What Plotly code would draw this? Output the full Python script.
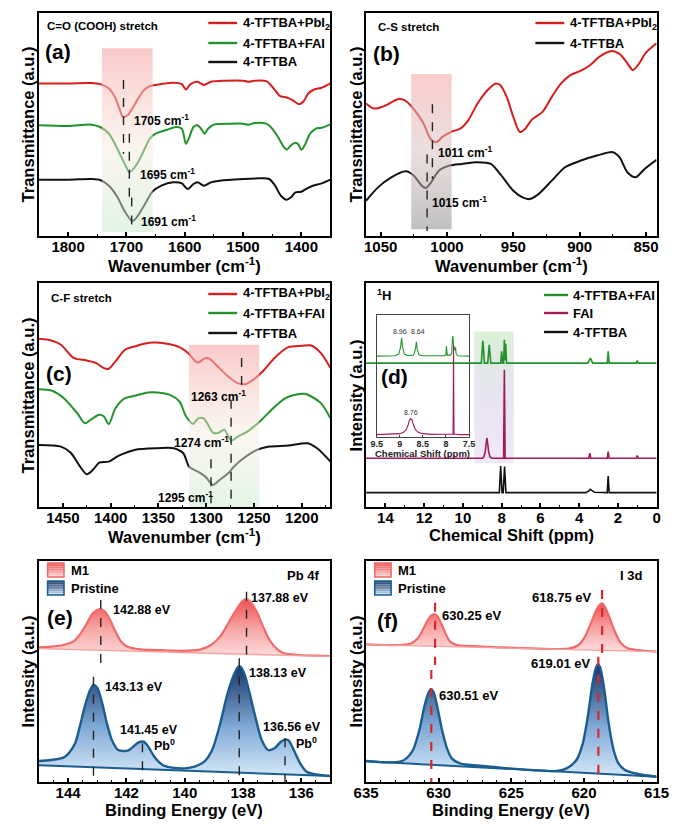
import plotly.graph_objects as go

# ===================== DATA =====================
# (a) C=O (COOH) stretch  -- wavenumber (cm-1) vs transmittance (a.u., offset)
a_wn_pbi2 = [1850,1800,1760,1745,1730,1720,1712,1706,1698,1690,1680,1670,1660,1640,1620,1605,1598,1590,1578,1567,
             1555,1530,1500,1490,1480,1460,1455,1445,1437,1425,1415,1404,1396,1388,1378,1365,1350]
a_t_pbi2 = [455,455,456,453,440,415,380,355,360,380,410,435,447,453,457,453,437,453,460,450,
            460,463,463,460,463,462,455,435,418,413,405,393,402,425,437,442,455]
a_wn_fai = [1850,1800,1760,1745,1730,1720,1710,1700,1695,1688,1680,1670,1660,1650,1630,1615,1605,1598,1592,1585,
            1578,1570,1566,1560,1550,1520,1500,1490,1480,1460,1450,1440,1430,1425,1418,1410,1405,1400,1393,1385,
            1375,1365,1350]
a_t_fai = [330,328,332,325,305,275,240,205,190,200,220,255,290,305,317,325,320,275,295,325,
           330,315,305,320,332,335,335,332,337,335,320,295,265,258,270,278,273,257,275,305,
           320,323,333]
a_wn_tftba = [1850,1800,1760,1745,1730,1715,1705,1695,1691,1685,1675,1665,1655,1640,1620,1605,1595,1585,1578,1567,
              1555,1540,1500,1470,1455,1445,1435,1425,1418,1410,1400,1390,1380,1365,1350]
a_t_tftba = [168,168,170,167,150,115,80,53,45,50,75,105,133,150,160,157,140,155,160,150,
             160,165,170,172,170,150,120,108,115,130,132,142,150,157,168]

# (b) C-S stretch
b_wn_pbi2 = [1061,1055,1047,1037,1032,1025,1018,1012,1008,1003,996,990,984,977,969,963,960,955,950,945,
             941,936,928,921,914,907,899,892,885,876,870,864,860,856,850,842]
b_t_pbi2 = [395,380,388,408,405,378,338,287,280,297,312,320,345,395,437,455,450,415,355,310,
            320,347,370,415,455,480,493,510,535,552,543,515,495,510,547,575]
b_wn_tftba = [1061,1052,1042,1031,1025,1019,1016,1012,1006,998,989,977,967,960,950,943,938,931,921,911,
              899,887,875,870,864,858,851,842]
b_t_tftba = [105,145,175,193,180,150,143,160,195,210,215,220,215,185,135,115,110,125,165,205,
             225,240,250,235,190,175,200,227]

# (c) C-F stretch
c_wn_pbi2 = [1475,1462,1452,1440,1435,1425,1415,1407,1402,1395,1385,1375,1365,1355,1341,1328,1319,1311,1308,1301,
             1296,1288,1277,1267,1259,1251,1241,1227,1214,1200,1190,1180,1170]
c_t_pbi2 = [504,499,486,449,443,439,431,416,414,436,471,481,489,493,489,479,461,436,433,446,
            443,421,391,371,368,381,406,451,479,483,484,461,416]
c_wn_fai = [1475,1462,1449,1435,1427,1420,1412,1407,1402,1395,1385,1375,1361,1351,1338,1328,1321,1314,1308,1303,
            1298,1293,1288,1281,1274,1267,1257,1244,1230,1217,1207,1197,1190,1180,1170]
c_t_fai = [353,349,326,281,251,263,276,271,248,296,326,333,343,343,336,316,271,249,266,266,
           246,223,221,231,199,211,226,256,296,326,336,339,331,311,266]
c_wn_tftba = [1475,1452,1442,1432,1425,1418,1412,1402,1392,1375,1351,1334,1324,1318,1309,1301,1293,1286,1277,1271,
              1261,1247,1234,1214,1194,1184,1170]
c_t_tftba = [186,181,163,121,98,113,133,136,153,171,176,176,161,121,106,91,66,81,101,121,
             146,171,181,184,191,176,136]

# (d) 1H NMR -- chemical shift (ppm) vs intensity (a.u., offset)
d_ppm_mix = [15,9.05,8.97,8.89,8.72,8.64,8.56,8.05,8.00,7.95,7.90,7.86,7.82,7.79,7.75,3.55,3.42,3.30,2.55,2.50,2.45,1.05,1.00,0.95,0]
d_i_mix = [431,431,498,431,431,486,431,431,466,431,431,501,440,489,431,431,446,431,431,466,431,431,439,431,431]
d_ppm_fai = [15,9.0,8.92,8.85,8.80,8.76,8.72,8.67,8.60,8.5,7.90,7.86,7.82,3.50,3.45,3.40,2.55,2.50,2.45,1.05,1.00,0.95,0]
d_i_fai = [146,146,150,165,190,206,190,165,150,146,146,411,146,146,161,146,146,166,146,146,154,146,146]
d_ppm_tftba = [15,13.8,13.5,13.3,13.0,8.12,8.05,7.98,7.92,7.85,7.78,3.65,3.5,3.42,3.35,3.2,2.55,2.50,2.45,0]
d_i_tftba = [43,43,45,45,43,43,123,43,43,121,43,43,48,53,50,44,43,93,43,43]
# inset (9.5 - 7.5 ppm)
ins_ppm_mix = [9.5,9.10,9.02,8.98,8.96,8.94,8.90,8.82,8.70,8.66,8.64,8.62,8.58,8.50,8.05,8.00,7.99,7.97,7.90,7.875,
               7.86,7.85,7.84,7.83,7.81,7.80,7.79,7.78,7.75,7.5]
ins_i_mix = [242,243,248,270,297,270,248,243,245,262,285,262,245,243,243,245,272,245,245,250,
             290,302,285,262,270,258,268,250,243,242]
ins_ppm_fai = [9.5,9.1,9.0,8.92,8.86,8.82,8.79,8.76,8.73,8.70,8.66,8.60,8.5,8.3,7.9,7.845,7.835,7.825,7.7,7.5]
ins_i_fai = [7,8,10,14,22,35,50,55,50,35,22,14,10,8,8,9,275,9,7,7]

# (e) XPS Pb 4f -- binding energy (eV) vs intensity (a.u., offset)
e_be_m1 = [145,144.59,144.16,143.83,143.61,143.39,143.17,143.0,142.88,142.73,142.57,142.40,142.18,141.96,141.52,
           140.98,140.43,139.88,139.44,139.1,138.79,138.52,138.24,138.02,137.89,137.75,137.53,137.31,137.09,136.82,
           136.59,136.04,135.49,135.0]
e_i_m1 = [404,406,411,421,441,471,504,516,519,511,488,456,421,406,398,396,394,394,398,411,
          436,474,516,543,549,541,511,466,426,398,386,381,379,378]
e_bg_be_m1 = [145,135]
e_bg_m1 = [400,377]
e_be_pr = [145,144.59,144.16,143.98,143.76,143.60,143.43,143.27,143.13,142.99,142.83,142.67,142.50,142.28,141.96,
           141.74,141.58,141.41,141.25,141.03,140.76,140.43,139.99,139.66,139.33,139.06,138.78,138.56,138.34,138.18,
           138.09,137.96,137.80,137.58,137.36,137.14,136.92,136.70,136.54,136.43,136.26,136.04,135.82,135.49,135.0]
e_i_pr = [63,66,73,86,116,166,226,271,291,281,236,176,126,96,94,108,119,121,106,74,
          51,43,41,46,61,96,176,256,316,344,346,326,276,196,126,96,101,121,128,124,
          96,56,31,23,18]
e_bg_be_pr = [145,135]
e_bg_pr = [50,18]

# (f) XPS I 3d
f_be_m1 = [635,633.66,632.55,631.88,631.44,631.10,630.77,630.50,630.32,630.10,629.83,629.54,629.21,628.76,627.65,
           625.87,623.64,621.86,620.97,620.37,619.93,619.48,619.15,618.93,618.77,618.59,618.26,617.92,617.48,617.0,
           616.29,615.0]
f_i_m1 = [413,411,411,416,431,456,484,500,504,498,476,446,421,411,408,404,401,399,401,411,
          436,481,516,531,536,528,496,456,418,401,396,391]
f_bg_be_m1 = [635,615]
f_bg_m1 = [412,391]
f_be_pr = [635,633.66,632.66,632.22,631.77,631.33,630.99,630.72,630.55,630.37,630.10,629.77,629.43,629.10,628.54,
           626.98,625.20,623.64,621.86,621.19,620.52,620.08,619.74,619.41,619.19,619.05,618.90,618.63,618.30,617.96,
           617.63,617.18,616.29,615.0]
f_i_pr = [63,59,61,71,96,156,226,266,278,271,226,156,101,71,56,48,41,36,33,41,
          66,116,196,296,341,353,346,286,176,96,56,36,24,16]
f_bg_be_pr = [635,615]
f_bg_pr = [62,16]

# peak markers: (position, y_top, y_bottom)
a_marks = [(1705, 465, 245), (1695, 305, 115), (1691, 115, 15)]
b_marks = [(1011, 393, 170), (1015, 243, 15)]
c_marks = [(1263, 446, 366), (1274, 321, 11), (1295, 143, 11)]
e_marks = [(142.88, 546, 336), (137.88, 571, 366), (143.13, 316, 0), (141.45, 116, 0), (138.13, 371, 0), (136.56, 131, 0)]
f_marks = [(630.25, 538, 351), (630.51, 336, 0), (618.75, 576, 386), (619.01, 376, 0)]

# peak labels: (text, x, y)
a_labels = [("1705 cm<sup>-1</sup>", 1690, 347), ("1695 cm<sup>-1</sup>", 1680, 185), ("1691 cm<sup>-1</sup>", 1678, 45)]
b_labels = [("1011 cm<sup>-1</sup>", 1008, 250), ("1015 cm<sup>-1</sup>", 1013, 100)]
c_labels = [("1263 cm<sup>-1</sup>", 1318, 333), ("1274 cm<sup>-1</sup>", 1336, 194), ("1295 cm<sup>-1</sup>", 1353, 31)]
e_labels = [("142.88 eV", 142.53, 516), ("137.88 eV", 137.80, 551), ("143.13 eV", 142.79, 286), ("138.13 eV", 137.88, 326),
            ("141.45 eV", 142.29, 156), ("Pb<sup>0</sup>", 141.12, 110), ("136.56 eV", 137.38, 164), ("Pb<sup>0</sup>", 136.26, 118)]
f_labels_left = [("630.25 eV", 629.92, 501), ("630.51 eV", 630.10, 261)]
f_labels_right = [("618.75 eV", 619.30, 554), ("619.01 eV", 619.41, 356)]
ins_labels = [("8.96", 8.99, 315), ("8.64", 8.61, 315), ("8.76", 8.76, 72)]

# highlighted regions: (x0, x1, y0, y1)
a_region = (1742, 1655, 12, 560)
b_region = (1027, 996.5, 20, 483)
c_region = (1318, 1244.5, 0, 486)
d_region = (9.41, 7.38, 131, 526)

# ===================== STYLE =====================
W, H = 685, 824
FONT = "Liberation Sans, Arial, sans-serif"
RED = "#d71e1e"
GREEN = "#22922a"
BLACK = "#111111"
PURPLE = "#a3195b"
M1C = "#f16a6a"
PRC = "#1b5d8f"


def PX(x):
    return x / W


def PY(y):
    return 1 - y / H


fig = go.Figure()


def line(ax, x, y, color, width=2.0, shape="spline", smoothing=0.8, dash=None):
    fig.add_trace(go.Scatter(
        x=x, y=y, mode="lines", xaxis="x" + ax, yaxis="y" + ax,
        line=dict(color=color, width=width, shape=shape, smoothing=smoothing, dash=dash),
        showlegend=False, hoverinfo="skip"))


def region(ax, reg, cs):
    x0, x1, y0, y1 = reg
    fig.add_trace(go.Scatter(
        x=[x0, x1, x1, x0, x0], y=[y0, y0, y1, y1, y0], mode="lines", fill="toself",
        line=dict(width=0, color="rgba(0,0,0,0)"), xaxis="x" + ax, yaxis="y" + ax,
        fillgradient=dict(type="vertical", colorscale=cs),
        showlegend=False, hoverinfo="skip"))


def xps_fill(ax, x, y, bx, by, cs):
    fig.add_trace(go.Scatter(
        x=list(x) + list(bx)[::-1], y=list(y) + list(by)[::-1], mode="lines", fill="toself",
        line=dict(width=0, color="rgba(0,0,0,0)", shape="spline", smoothing=0.8),
        xaxis="x" + ax, yaxis="y" + ax,
        fillgradient=dict(type="vertical", colorscale=cs),
        showlegend=False, hoverinfo="skip"))


# ---- (a)
line("", a_wn_pbi2, a_t_pbi2, RED)
line("", a_wn_fai, a_t_fai, GREEN)
line("", a_wn_tftba, a_t_tftba, BLACK)
region("", a_region, [[0, "rgba(200,236,208,0.55)"], [0.45, "rgba(245,232,220,0.45)"], [1, "rgba(247,165,165,0.6)"]])
# ---- (b)
line("2", b_wn_pbi2, b_t_pbi2, RED)
line("2", b_wn_tftba, b_t_tftba, BLACK)
region("2", b_region, [[0, "rgba(150,150,150,0.6)"], [0.5, "rgba(215,190,190,0.5)"], [1, "rgba(247,170,170,0.6)"]])
# ---- (c)
line("3", c_wn_pbi2, c_t_pbi2, RED)
line("3", c_wn_fai, c_t_fai, GREEN)
line("3", c_wn_tftba, c_t_tftba, BLACK)
region("3", c_region, [[0, "rgba(205,238,212,0.55)"], [0.45, "rgba(245,235,222,0.45)"], [1, "rgba(247,165,165,0.6)"]])
# ---- (d)
region("4", d_region, [[0, "rgba(232,222,240,0.7)"], [0.5, "rgba(222,215,238,0.7)"], [1, "rgba(205,236,200,0.75)"]])
line("4", d_ppm_mix, d_i_mix, GREEN, width=1.6, shape="linear")
line("4", d_ppm_fai, d_i_fai, PURPLE, width=1.6, shape="linear")
line("4", d_ppm_tftba, d_i_tftba, BLACK, width=1.6, shape="linear")
line("7", ins_ppm_mix, ins_i_mix, GREEN, width=1.1, shape="linear")
line("7", ins_ppm_fai, ins_i_fai, PURPLE, width=1.1, shape="linear")
# ---- (e)
M1_CS = [[0, "#fcdede"], [0.5, "#f7a3a3"], [1, "#ef4f4f"]]
PR_CS = [[0, "#d6e8f8"], [0.45, "#7fa9d6"], [1, "#1a3566"]]
xps_fill("5", e_be_m1, e_i_m1, e_bg_be_m1, e_bg_m1, M1_CS)
line("5", e_be_m1, e_i_m1, M1C, width=2.2)
line("5", e_bg_be_m1, e_bg_m1, "#f4a0a0", width=1.2, shape="linear")
xps_fill("5", e_be_pr, e_i_pr, e_bg_be_pr, e_bg_pr, PR_CS)
line("5", e_be_pr, e_i_pr, PRC, width=2.4)
line("5", e_bg_be_pr, e_bg_pr, PRC, width=2.0, shape="linear")
# ---- (f)
xps_fill("6", f_be_m1, f_i_m1, f_bg_be_m1, f_bg_m1, M1_CS)
line("6", f_be_m1, f_i_m1, M1C, width=2.2)
line("6", f_bg_be_m1, f_bg_m1, "#f4a0a0", width=1.2, shape="linear")
xps_fill("6", f_be_pr, f_i_pr, f_bg_be_pr, f_bg_pr, PR_CS)
line("6", f_be_pr, f_i_pr, PRC, width=2.4)
line("6", f_bg_be_pr, f_bg_pr, PRC, width=2.0, shape="linear")

# ---- axes
LEFT = [PX(27), PX(330)]
RIGHT = [PX(367), PX(669)]
ROW1 = [PY(236), PY(13)]
ROW2 = [PY(507), PY(283)]
ROW3 = [PY(782), PY(561)]
TICKFONT = dict(family=FONT, size=15, color="black", weight="bold")


def xax(dom, rng, dtick, minor, anchor):
    return dict(domain=dom, range=rng, anchor=anchor, dtick=dtick, ticks="inside", ticklen=4, tickwidth=1.5,
                tickcolor="black", showline=True, linecolor="black", linewidth=1.6, mirror=True,
                showgrid=False, zeroline=False, tickfont=TICKFONT, ticklabelstandoff=-4,
                minor=dict(dtick=minor, ticks="inside", ticklen=2.5, tickwidth=1.2, tickcolor="black", showgrid=False))


def yax(dom, rng, anchor):
    return dict(domain=dom, range=rng, anchor=anchor, showticklabels=False, ticks="", showline=True,
                linecolor="black", linewidth=1.6, mirror=True, showgrid=False, zeroline=False)


layout = dict(
    width=W, height=H, margin=dict(l=0, r=0, t=0, b=0),
    paper_bgcolor="white", plot_bgcolor="rgba(0,0,0,0)", showlegend=False,
    font=dict(family=FONT, color="black"),
    xaxis=xax(LEFT, [1850, 1350], 100, 50, "y"), yaxis=yax(ROW1, [0, 665], "x"),
    xaxis2=xax(RIGHT, [1061, 842], 50, 25, "y2"), yaxis2=yax(ROW1, [0, 665], "x2"),
    xaxis3=xax(LEFT, [1475, 1170], 50, 25, "y3"), yaxis3=yax(ROW2, [0, 671], "x3"),
    xaxis4=xax(RIGHT, [15, 0], 2, 1, "y4"), yaxis4=yax(ROW2, [0, 671], "x4"),
    xaxis5=xax(LEFT, [145, 135], 2, 0.5, "y5"), yaxis5=yax(ROW3, [0, 663], "x5"),
    xaxis6=xax(RIGHT, [635, 615], 5, 1, "y6"), yaxis6=yax(ROW3, [0, 663], "x6"),
)
layout["xaxis7"] = dict(domain=[PX(378), PX(474)], range=[9.5, 7.5], anchor="y7", dtick=0.5, ticks="inside",
                        ticklen=2, tickwidth=1, tickcolor="#444", showline=True, linecolor="#444", linewidth=1,
                        mirror=True, showgrid=False, zeroline=False, ticklabelstandoff=-2,
                        tickfont=dict(family=FONT, size=9, color="#222", weight="bold"))
layout["yaxis7"] = dict(domain=[PY(437), PY(315)], range=[0, 365], anchor="x7", showticklabels=False, ticks="",
                        showline=True, linecolor="#444", linewidth=1, mirror=True, showgrid=False, zeroline=False)
fig.update_layout(**layout)

# ---- dashed marker lines
shapes = []
for ax, marks, col, w, dsh in [("", a_marks, "#222", 1.4, "dash"), ("2", b_marks, "#222", 1.4, "dash"),
                               ("3", c_marks, "#222", 1.4, "dash"), ("5", e_marks, "#222", 1.4, "dash"),
                               ("6", f_marks, "#d42a2a", 2.2, "dash")]:
    for xv, y0, y1 in marks:
        shapes.append(dict(type="line", xref="x" + ax, yref="y" + ax, x0=xv, x1=xv, y0=y0, y1=y1,
                           line=dict(color=col, width=w, dash=dsh), layer="above"))


def leg_line(x0, x1, y, color):
    shapes.append(dict(type="line", xref="paper", yref="paper", x0=PX(x0), x1=PX(x1), y0=PY(y), y1=PY(y),
                       line=dict(color=color, width=2.4)))


ann = []


def text(x, y, s, size=14, xanchor="left", color="black", bold=True):
    ann.append(dict(x=PX(x), y=PY(y), xref="paper", yref="paper", text=("<b>%s</b>" % s) if bold else s,
                    showarrow=False, xanchor=xanchor, yanchor="middle",
                    font=dict(family=FONT, size=size, color=color)))


LEGF = 13
legA = [("4-TFTBA+PbI<sub>2</sub>", RED), ("4-TFTBA+FAI", GREEN), ("4-TFTBA", BLACK)]
for i, (s, c) in enumerate(legA):
    y = [23, 43, 62][i]
    leg_line(203, 233, y, c)
    text(237, y, s, LEGF)
for i, (s, c) in enumerate([legA[0], legA[2]]):
    y = [23, 43][i]
    leg_line(543, 573, y, c)
    text(577, y, s, LEGF)
for i, (s, c) in enumerate(legA):
    y = [294, 313, 333][i]
    leg_line(203, 233, y, c)
    text(237, y, s, LEGF)
legD = [("4-TFTBA+FAI", GREEN), ("FAI", PURPLE), ("4-TFTBA", BLACK)]
for i, (s, c) in enumerate(legD):
    y = [295, 313, 332][i]
    leg_line(552, 577, y, c)
    text(580, y, s, LEGF)


def grad_square(x0, x1, y0, y1, top, bot, edge, n=8):
    def mix(a, b, t):
        return "rgb(%d,%d,%d)" % tuple(int(a[k] + (b[k] - a[k]) * t) for k in range(3))
    for k in range(n):
        ya = y0 + (y1 - y0) * k / n
        yb = y0 + (y1 - y0) * (k + 1) / n
        shapes.append(dict(type="rect", xref="paper", yref="paper", x0=PX(x0), x1=PX(x1), y0=PY(ya), y1=PY(yb),
                           fillcolor=mix(top, bot, (k + 0.5) / n), line=dict(width=0)))
    shapes.append(dict(type="rect", xref="paper", yref="paper", x0=PX(x0), x1=PX(x1), y0=PY(y0), y1=PY(y1),
                       fillcolor="rgba(0,0,0,0)", line=dict(color=edge, width=1.6)))


for xo in (0, 340):
    grad_square(36 + xo, 53 + xo, 563, 577, (236, 80, 80), (252, 215, 215), M1C)
    grad_square(36 + xo, 53 + xo, 581, 595, (28, 55, 105), (205, 225, 245), PRC)
    text(58 + xo, 570, "M1", 13)
    text(58 + xo, 588, "Pristine", 13)

# ---- panel texts
text(33, 26, "C=O (COOH) stretch", 11.5)
text(31, 52, "(a)", 21)
text(377, 27, "C-S stretch", 11.5)
text(372, 53, "(b)", 21)
text(37, 298, "C-F stretch", 11.5)
text(32, 373, "(c)", 21)
text(376, 295, "<sup>1</sup>H", 13)
text(380, 377, "(d)", 21)
text(320, 575, "Pb 4f", 13, xanchor="right")
text(33, 617, "(e)", 21)
text(656, 575, "I 3d", 13, xanchor="right")
text(376, 620, "(f)", 21)

XT = 16.5
text(178, 265, "Wavenumber (cm<sup>-1</sup>)", XT, xanchor="center")
text(518, 265, "Wavenumber (cm<sup>-1</sup>)", XT, xanchor="center")
text(178, 536, "Wavenumber (cm<sup>-1</sup>)", XT, xanchor="center")
text(518, 535, "Chemical Shift (ppm)", XT, xanchor="center")
text(178, 810, "Binding Energy (eV)", XT, xanchor="center")
text(518, 810, "Binding Energy (eV)", XT, xanchor="center")
for x, y, s in [(16, 124, "Transmittance (a.u.)"), (357, 124, "Transmittance (a.u.)"),
                (16, 395, "Transmittance (a.u.)"), (357, 395, "Intensity (a.u.)"),
                (16, 671, "Intensity (a.u.)"), (357, 671, "Intensity (a.u.)")]:
    ann.append(dict(x=PX(x), y=PY(y), xref="paper", yref="paper", text="<b>%s</b>" % s, showarrow=False,
                    textangle=-90, xanchor="center", yanchor="middle", font=dict(family=FONT, size=XT, color="black")))
text(426, 453, "Chemical Shift (ppm)", 9.5, xanchor="center", color="#222")


def dlabel(ax, s, x, y, size=12, xanchor="left", color="black"):
    ann.append(dict(x=x, y=y, xref="x" + ax, yref="y" + ax, text="<b>%s</b>" % s, showarrow=False,
                    xanchor=xanchor, yanchor="middle", font=dict(family=FONT, size=size, color=color)))


for s, x, y in a_labels:
    dlabel("", s, x, y)
for s, x, y in b_labels:
    dlabel("2", s, x, y)
for s, x, y in c_labels:
    dlabel("3", s, x, y)
for s, x, y in e_labels:
    dlabel("5", s, x, y, size=12.5)
for s, x, y in f_labels_left:
    dlabel("6", s, x, y, size=13)
for s, x, y in f_labels_right:
    dlabel("6", s, x, y, size=13, xanchor="right")
for s, x, y in ins_labels:
    ann.append(dict(x=x, y=y, xref="x7", yref="y7", text=s, showarrow=False, xanchor="center", yanchor="middle",
                    font=dict(family=FONT, size=7, color="#333")))

fig.update_layout(shapes=shapes, annotations=ann)
fig.write_html("out.html", config={"displayModeBar": False},
               post_script="document.body.style.margin='0px';document.body.style.overflow='hidden';")
